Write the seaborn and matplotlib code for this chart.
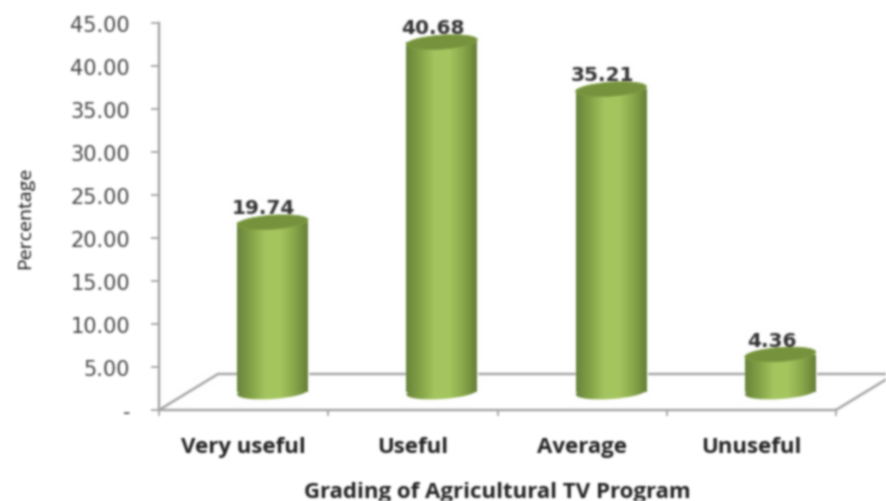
"""Cylinder-style bar chart of how useful viewers rate the agricultural TV program."""

import matplotlib

matplotlib.use("Agg")

import matplotlib.pyplot as plt
import numpy as np
import pandas as pd
import seaborn as sns
from matplotlib.colors import LinearSegmentedColormap
from matplotlib.patches import Ellipse
from matplotlib.transforms import Affine2D, ScaledTranslation

categories = ["Very useful", "Useful", "Average", "Unuseful"]
percentages = [19.74, 40.68, 35.21, 4.36]
y_ticks = [0, 5, 10, 15, 20, 25, 30, 35, 40, 45]
y_tick_labels = ["-", "5.00", "10.00", "15.00", "20.00", "25.00", "30.00", "35.00", "40.00", "45.00"]

W, H, DPI = 886, 502, 100
PT = 72 / DPI  # one pixel in points

# plot area in pixels
LEFT, RIGHT, BOTTOM, TOP = 159, 836, 411, 24
CAT_PX = (RIGHT - LEFT) / len(categories)
VAL_PX = (BOTTOM - TOP) / 45

# fake 3D depth: bars stand halfway into the floor
FLOOR_X, FLOOR_Y = 59 / CAT_PX, 36 / VAL_PX
BAR_X, BAR_Y = 29 / CAT_PX, 18 / VAL_PX
BAR_W_PX, ELL_H_PX, TILT = 71, 14, 4

AXIS_GRAY = "#a3a3a3"
body_cmap = LinearSegmentedColormap.from_list(
    "cyl", ["#67833a", "#84a347", "#a4c55e", "#a6c65f", "#8aa94a", "#647f36"]
)


def blur(img, dpi, sigma=1.1, pad=5):
    """Soft focus for the whole axes, the reference is a low-res upscale."""
    kernel = np.exp(-0.5 * (np.arange(-pad, pad + 1) / sigma) ** 2)
    kernel /= kernel.sum()
    img = np.pad(img, ((pad, pad), (pad, pad), (0, 0)))
    alpha = img[..., 3:]
    pre = np.concatenate([img[..., :3] * alpha, alpha], axis=2)
    for axis in (0, 1):
        pre = np.apply_along_axis(lambda m: np.convolve(m, kernel, mode="same"), axis, pre)
    out = pre.copy()
    a = np.clip(pre[..., 3:], 1e-4, 1)
    out[..., :3] = np.clip(pre[..., :3] / a, 0, 1)
    out[..., 3] = np.clip(pre[..., 3], 0, 1)
    return out, -pad, -pad


sns.set_theme(style="white")
plt.rcParams["font.family"] = ["DejaVu Sans"]

fig = plt.figure(figsize=(W / DPI, H / DPI), dpi=DPI, facecolor="white")
ax = fig.add_axes([LEFT / W, 1 - BOTTOM / H, (RIGHT - LEFT) / W, (BOTTOM - TOP) / H])

df = pd.DataFrame({"grade": categories, "pct": percentages})
sns.barplot(data=df, x="grade", y="pct", color="#a4c55e", width=BAR_W_PX / CAT_PX, ax=ax, zorder=3)
ax.set_xlim(-0.5, 3.5)
ax.set_ylim(0, 45)

# floor of the 3D box
floor_x = [-0.5, -0.5 + FLOOR_X, 3.5 + FLOOR_X, 3.5]
floor_y = [0, FLOOR_Y, FLOOR_Y, 0]
ax.plot(floor_x, floor_y, color=AXIS_GRAY, lw=2.4 * PT, clip_on=False, zorder=1)


def px_ellipse(cx, cy, **kw):
    """Ellipse sized in pixels, centred on a data position."""
    place = Affine2D() + ScaledTranslation(cx, cy, ax.transData)
    return Ellipse((0, 0), BAR_W_PX, ELL_H_PX, angle=TILT, transform=place, **kw)


gradient = np.linspace(0, 1, 256).reshape(1, -1)
for bar, pct in zip(list(ax.patches), percentages):
    bar.set_x(bar.get_x() + BAR_X)
    bar.set_y(BAR_Y)
    x0, x1 = bar.get_x(), bar.get_x() + bar.get_width()
    cx = (x0 + x1) / 2

    foot = px_ellipse(cx, BAR_Y, fc="none", ec="none", zorder=2)
    ax.add_patch(foot)
    for clip in (bar, foot):
        im = ax.imshow(
            gradient,
            cmap=body_cmap,
            aspect="auto",
            extent=(x0, x1, 0, BAR_Y + pct),
            zorder=3,
        )
        im.set_clip_path(clip)

    ax.add_patch(px_ellipse(cx, BAR_Y + pct, fc="#76923c", ec="#80a043", lw=0.6, zorder=4))
    ax.annotate(
        f"{pct:.2f}",
        xy=(cx, BAR_Y + pct),
        xytext=(-9 * PT, 14.5 * PT),
        textcoords="offset points",
        ha="center",
        va="center",
        fontsize=14.5,
        fontweight="bold",
        color="#333333",
        zorder=5,
    )

ax.set_xlim(-0.5, 3.5)
ax.set_ylim(0, 45)

sns.despine(ax=ax, top=True, right=True)
for side in ("left", "bottom"):
    ax.spines[side].set_color(AXIS_GRAY)
    ax.spines[side].set_linewidth(2.4 * PT)

ax.set_yticks(y_ticks)
ax.set_yticklabels(y_tick_labels, fontsize=15, color="#454545")
ax.tick_params(axis="y", left=True, length=8 * PT, width=1.8 * PT, color=AXIS_GRAY, pad=21 * PT)

ax.set_xticks(range(len(categories)))
ax.set_xticklabels(categories, fontsize=16, fontweight="bold", color="#222222", family="Open Sans")
ax.tick_params(axis="x", which="major", bottom=False, length=0, pad=26 * PT)
ax.set_xticks(np.arange(-0.5, 4), minor=True)
ax.tick_params(axis="x", which="minor", bottom=True, length=6 * PT, width=1.8 * PT, color=AXIS_GRAY)

ax.set_xlabel(
    "Grading of Agricultural TV Program",
    fontsize=16,
    fontweight="bold",
    color="#222222",
    family="Open Sans",
)
ax.xaxis.set_label_coords(0.5, (BOTTOM - 493) / (BOTTOM - TOP), transform=ax.transAxes)
ax.xaxis.label.set_verticalalignment("center")
ax.set_ylabel("Percentage", fontsize=14, color="#111111", family="Open Sans")
ax.yaxis.set_label_coords((25 - LEFT) / (RIGHT - LEFT), (BOTTOM - 218) / (BOTTOM - TOP))
ax.yaxis.label.set_verticalalignment("center")

ax.set_agg_filter(blur)

fig.savefig("out.png", dpi=DPI, facecolor="white")
